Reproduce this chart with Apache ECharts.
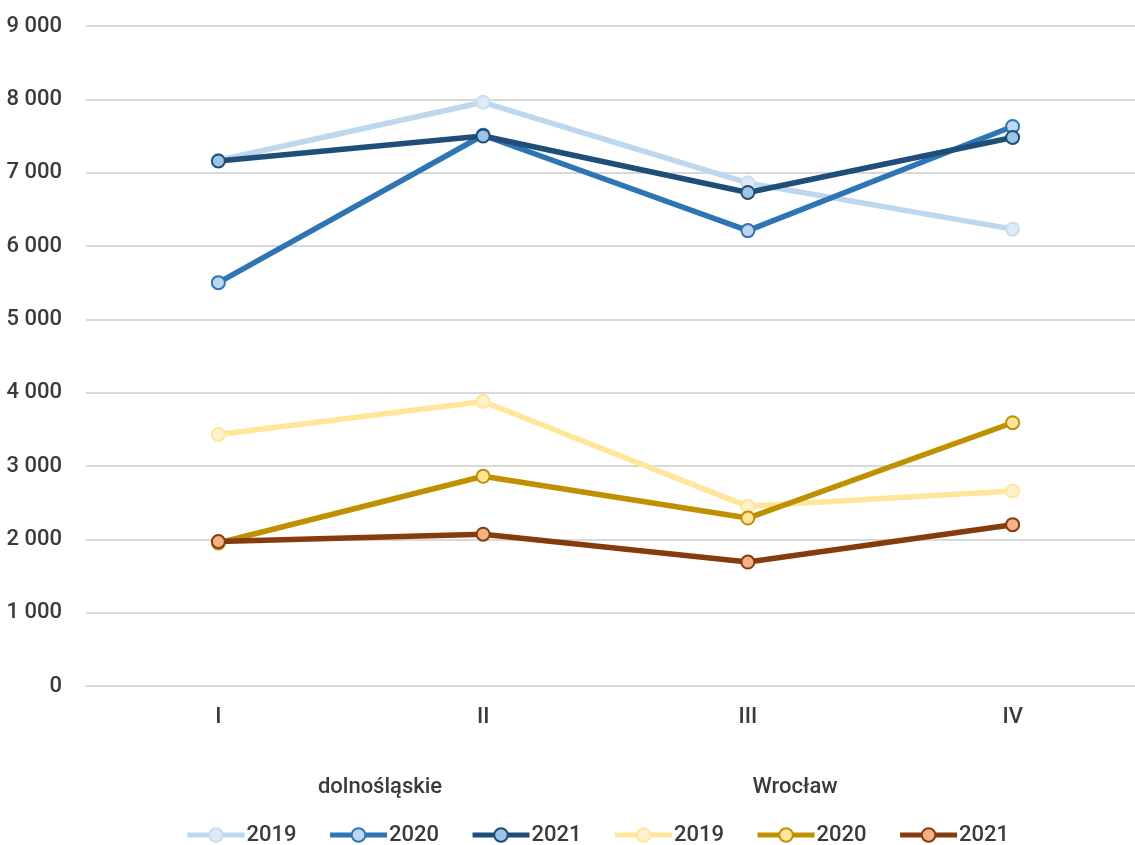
<!DOCTYPE html>
<html>
<head>
<meta charset="utf-8">
<script src="https://cdn.jsdelivr.net/npm/echarts@6/dist/echarts.min.js"></script>
<style>
  html, body { margin: 0; padding: 0; background: #ffffff; }
  #chart { width: 1135px; height: 845px; }
</style>
</head>
<body>
<div id="chart"></div>
<script>
// Quarters on the category axis
const quarters = ['I', 'II', 'III', 'IV'];

// Region groups shown above the legend
const groupNames = ['dolnośląskie', 'Wrocław'];
const years = ['2019', '2020', '2021'];

// dolnośląskie
const dolnoslaskie2019 = [7170, 7960, 6860, 6230];
const dolnoslaskie2020 = [5500, 7510, 6210, 7630];
const dolnoslaskie2021 = [7160, 7500, 6730, 7480];

// Wrocław
const wroclaw2019 = [3430, 3880, 2450, 2660];
const wroclaw2020 = [1950, 2860, 2290, 3590];
const wroclaw2021 = [1970, 2070, 1690, 2200];

const FONT = 'Roboto, "DejaVu Sans Condensed", sans-serif';
const TEXT = '#3A3A3A';

// line colour, marker fill, marker border
const styles = [
  ['#BDD7EE', '#DEEBF7', '#C9DDF0'],
  ['#2E75B6', '#BDD7EE', '#2E75B6'],
  ['#1F4E79', '#9DC3E6', '#1F4E79'],
  ['#FFE699', '#FFF2CC', '#FFE699'],
  ['#BF9000', '#FFE699', '#BF9000'],
  ['#843C0C', '#F4B183', '#843C0C']
];

const seriesData = [
  dolnoslaskie2019, dolnoslaskie2020, dolnoslaskie2021,
  wroclaw2019, wroclaw2020, wroclaw2021
];

const series = seriesData.map((data, i) => ({
  name: (i < 3 ? 'd' : 'w') + years[i % 3],
  type: 'line',
  data: data,
  symbol: 'circle',
  symbolSize: 13,
  lineStyle: { color: styles[i][0], width: 5.5 },
  itemStyle: { color: styles[i][1], borderColor: styles[i][2], borderWidth: 2 },
  emphasis: { disabled: true },
  z: 2 + i
}));

const chart = echarts.init(document.getElementById('chart'), null, { renderer: 'canvas' });
chart.setOption({
  animation: false,
  backgroundColor: '#ffffff',
  grid: { left: 86, top: 26, width: 1059, height: 660, containLabel: false, outerBoundsMode: 'none' },
  xAxis: {
    type: 'category',
    data: quarters,
    boundaryGap: true,
    axisLine: { show: true, lineStyle: { color: '#D9D9D9', width: 2 } },
    axisTick: { show: false },
    axisLabel: { color: TEXT, fontFamily: FONT, fontWeight: 500, fontSize: 22, margin: 20 }
  },
  yAxis: {
    type: 'value',
    min: 0,
    max: 9000,
    interval: 1000,
    axisLine: { show: false },
    axisTick: { show: false },
    splitLine: { lineStyle: { color: '#D9D9D9', width: 2 } },
    axisLabel: {
      color: TEXT, fontFamily: FONT, fontWeight: 500, fontSize: 22, margin: 24,
      formatter: v => String(v).replace(/\B(?=(\d{3})+(?!\d))/g, ' ')
    }
  },
  legend: {
    top: 824,
    left: 185,
    padding: 0,
    itemWidth: 57,
    itemHeight: 17,
    itemGap: 31,
    lineStyle: { width: 5 },
    formatter: name => name.slice(1),
    textStyle: { color: TEXT, fontFamily: FONT, fontWeight: 500, fontSize: 22, padding: [0, 0, 0, -3] },
    data: series.map(s => s.name)
  },
  graphic: [
    {
      type: 'text', x: 380, y: 787,
      style: { text: groupNames[0], fill: TEXT, font: '500 22px ' + FONT, align: 'center', verticalAlign: 'middle' }
    },
    {
      type: 'text', x: 795, y: 787,
      style: { text: groupNames[1], fill: TEXT, font: '500 22px ' + FONT, align: 'center', verticalAlign: 'middle' }
    }
  ],
  series: series
});
</script>
</body>
</html>
